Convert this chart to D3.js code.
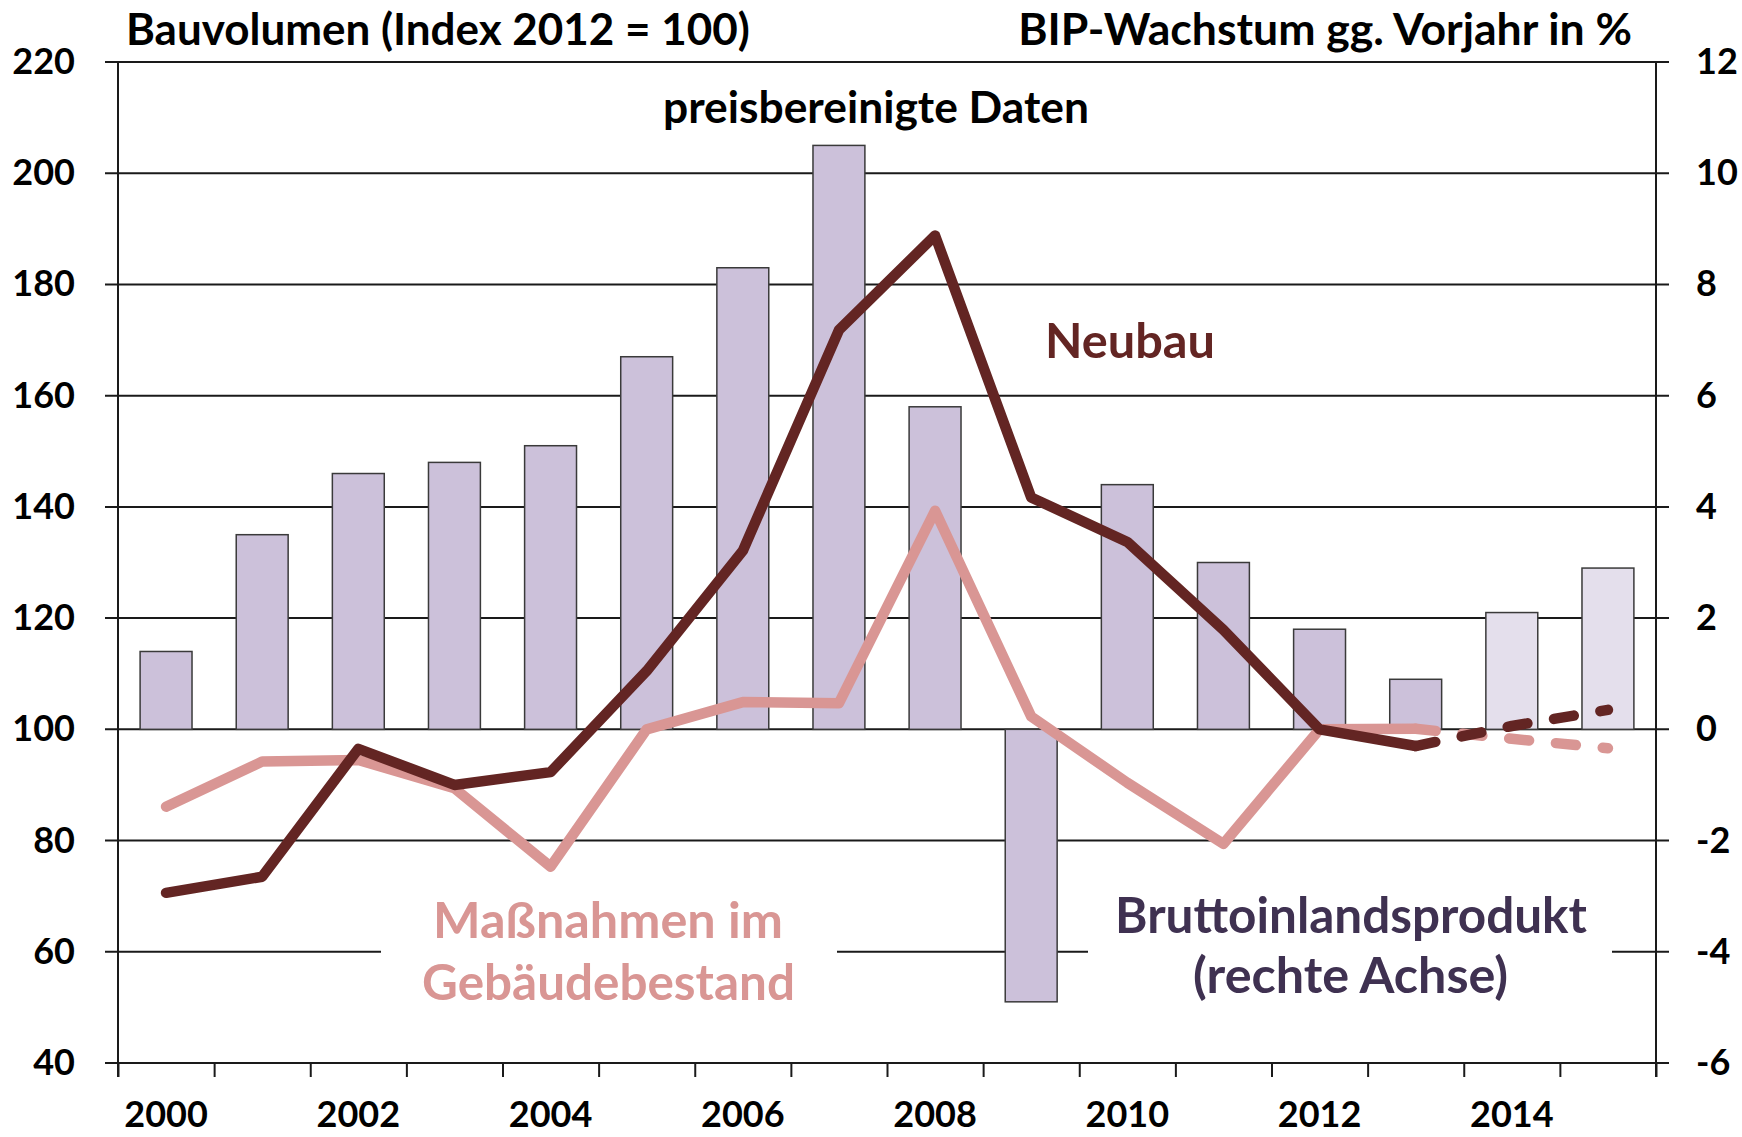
<!DOCTYPE html>
<html><head><meta charset="utf-8">
<script src="https://cdn.jsdelivr.net/npm/d3@7"></script>
<style>
body{margin:0;background:#fff}
svg{display:block}
text{font-family:Lato,"Open Sans",sans-serif;font-weight:700}
</style>
</head><body>
<svg id="c" width="1742" height="1137"></svg>
<script>
// ---- data ----
const years = [2000,2001,2002,2003,2004,2005,2006,2007,2008,2009,2010,2011,2012,2013,2014,2015];
const bip = [1.4,3.5,4.6,4.8,5.1,6.7,8.3,10.5,5.8,-4.9,4.4,3.0,1.8,0.9,2.1,2.9];
const forecastYears = [2014,2015];
const neubau = [70.6,73.5,96.5,90.0,92.3,110.5,132.1,171.8,188.8,141.7,133.7,117.9,100.0,97.0,100.6,103.5];
const massnahmen = [86.1,94.2,94.5,89.4,75.3,100.0,104.9,104.7,139.3,102.3,90.4,79.4,100.0,100.1,98.3,96.6];
const lastActualYear = 2013;
const leftTicks = [40,60,80,100,120,140,160,180,200,220];
const rightTicks = [-6,-4,-2,0,2,4,6,8,10,12];
const labelYears = [2000,2002,2004,2006,2008,2010,2012,2014];
const titleLeft = "Bauvolumen (Index 2012 = 100)";
const titleRight = "BIP-Wachstum gg. Vorjahr in %";

// ---- layout ----
const m = {l:118, r:1656, t:62, b:1063};
const C = {bar:"#CCC1DA", barF:"#E4DFEC", neu:"#632523", mas:"#D99694", bipTxt:"#3F3151", grid:"#1a1a1a"};
const svg = d3.select("#c");

const xb = d3.scaleBand().domain(years).range([m.l,m.r]).paddingInner(0.46).paddingOuter(0.23);
const xl = d3.scaleLinear().domain([years[0], years[years.length-1]+1]).range([m.l,m.r]);
const yL = d3.scaleLinear().domain([40,220]).range([m.b,m.t]);
const yR = d3.scaleLinear().domain([-6,12]).range([m.b,m.t]);
const bw = xb.bandwidth();
const cx = y => xb(y) + bw/2;

// gridlines (with outward ticks on both sides)
svg.append("g").selectAll("line").data(leftTicks).join("line")
  .attr("x1", m.l-13).attr("x2", m.r+13)
  .attr("y1", d=>yL(d)).attr("y2", d=>yL(d))
  .attr("stroke", C.grid).attr("stroke-width", 2);

// white text boxes covering gridline
svg.append("rect").attr("x",381).attr("y",885).attr("width",456).attr("height",140).attr("fill","#fff");
svg.append("rect").attr("x",1088).attr("y",885).attr("width",524).attr("height",140).attr("fill","#fff");

// bars
const barData = years.map((y,i)=>({y, v:bip[i], f:forecastYears.includes(y)}));
svg.append("g").selectAll("rect").data(barData).join("rect")
  .attr("x", d=>xb(d.y)).attr("width", bw)
  .attr("y", d=>yR(Math.max(0,d.v)))
  .attr("height", d=>Math.abs(yR(d.v)-yR(0)))
  .attr("fill", d=>d.f?C.barF:C.bar)
  .attr("stroke","#3a3a3a").attr("stroke-width",1.5);

// axis lines
svg.append("line").attr("x1",m.l).attr("x2",m.l).attr("y1",m.t).attr("y2",m.b+14).attr("stroke",C.grid).attr("stroke-width",2);
svg.append("line").attr("x1",m.r).attr("x2",m.r).attr("y1",m.t).attr("y2",m.b+14).attr("stroke",C.grid).attr("stroke-width",2);

// bottom ticks at category boundaries
const gxt = svg.append("g").attr("transform",`translate(0,${m.b})`)
  .call(d3.axisBottom(xl).tickValues(d3.range(years[0], years[years.length-1]+2)).tickSize(14).tickFormat(""));
gxt.select(".domain").remove();
gxt.selectAll("line").attr("stroke",C.grid).attr("stroke-width",2);

// lines
const ser = (vals) => years.map((y,i)=>({y, v:vals[i]}));
const line = d3.line().x(d=>cx(d.y)).y(d=>yL(d.v));
function drawSeries(vals, color){
  const s = ser(vals);
  const solid = s.filter(d=>d.y<=lastActualYear);
  const dashed = s.filter(d=>d.y>=lastActualYear);
  svg.append("path").attr("d", line(solid)).attr("fill","none").attr("stroke",color)
    .attr("stroke-width",10.5).attr("stroke-linecap","round").attr("stroke-linejoin","round");
  svg.append("path").attr("d", line(dashed)).attr("fill","none").attr("stroke",color)
    .attr("stroke-width",10.5).attr("stroke-linecap","round").attr("stroke-linejoin","round")
    .attr("stroke-dasharray","20,27");
}
drawSeries(massnahmen, C.mas);
drawSeries(neubau, C.neu);

// y axes labels
const gl = svg.append("g").attr("transform",`translate(${m.l},0)`)
  .call(d3.axisLeft(yL).tickValues(leftTicks).tickSize(0).tickPadding(43).tickFormat(d=>String(d)));
gl.select(".domain").remove();
gl.selectAll("text").attr("font-size",36).attr("fill","#000").attr("font-family","Lato").attr("font-weight",700);

const gr = svg.append("g").attr("transform",`translate(${m.r},0)`)
  .call(d3.axisRight(yR).tickValues(rightTicks).tickSize(0).tickPadding(40).tickFormat(d=>String(d)));
gr.select(".domain").remove();
gr.selectAll("text").attr("font-size",36).attr("fill","#000").attr("font-family","Lato").attr("font-weight",700);

const gx = svg.append("g").attr("transform",`translate(0,${m.b})`)
  .call(d3.axisBottom(xb).tickValues(labelYears).tickSize(0).tickFormat(d=>String(d)));
gx.select(".domain").remove();
gx.selectAll("text").attr("y",64).attr("dy",null).attr("font-size",36).attr("fill","#000").attr("font-family","Lato").attr("font-weight",700);

// texts
function txt(s, x, y, anchor, color, target){
  const t = svg.append("text").attr("x",x).attr("y",y).attr("text-anchor",anchor)
    .attr("fill",color).attr("font-size",40).text(s);
  const w = t.node().getComputedTextLength();
  t.attr("font-size", 40*target/w);
  return t;
}
txt(titleLeft, 126, 45, "start", "#000", 624);
txt(titleRight, 1632, 45, "end", "#000", 614);
txt("preisbereinigte Daten", 876, 123, "middle", "#000", 426);
txt("Neubau", 1130, 358, "middle", C.neu, 170);
txt("Maßnahmen im", 608, 938, "middle", C.mas, 350);
txt("Gebäudebestand", 608.5, 1000, "middle", C.mas, 373);
txt("Bruttoinlandsprodukt", 1351, 933, "middle", C.bipTxt, 472);
txt("(rechte Achse)", 1350.5, 993, "middle", C.bipTxt, 315);
</script>
</body></html>
